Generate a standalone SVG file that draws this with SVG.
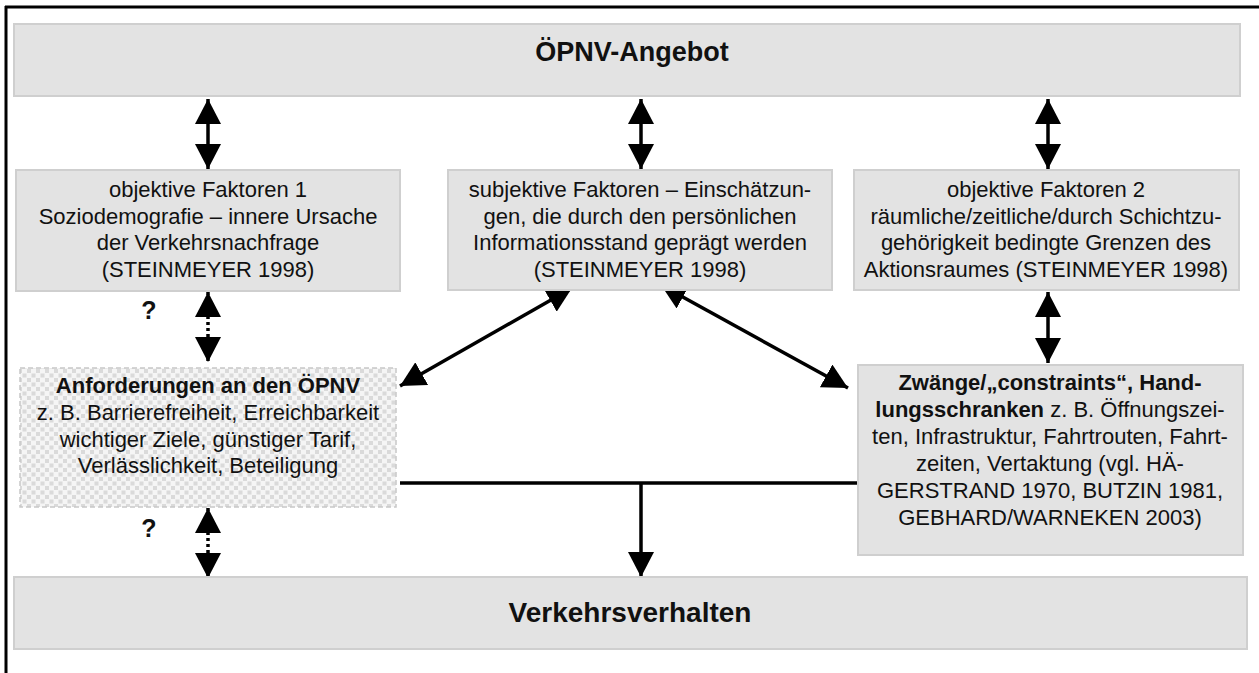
<svg xmlns="http://www.w3.org/2000/svg" width="1259" height="673" viewBox="0 0 1259 673">
<style>
  .box { fill: #e3e3e3; stroke: #cfcfcf; stroke-width: 2; }
  .pbox { fill: url(#chk); stroke: #c8c8c8; stroke-width: 1.5; stroke-dasharray: 5 3; }
  .t { font-family: "Liberation Sans", Arial, sans-serif; font-size: 22px; fill: #111; text-anchor: middle; }
  .b { font-weight: bold; }
  .q { font-size: 25px; }
  .title { font-family: "Liberation Sans", Arial, sans-serif; font-weight: bold; fill: #111; text-anchor: middle; }
  .c { stroke: #000; stroke-width: 3.5; fill: none; }
  .dot { stroke-dasharray: 3 3; }
  .frame { stroke: #000; stroke-width: 3; fill: none; }
</style>
<defs>
  <marker id="ah" markerUnits="userSpaceOnUse" markerWidth="26" markerHeight="26" refX="25" refY="13" orient="auto-start-reverse" viewBox="0 0 26 26">
    <path d="M0,0 L25,13 L0,26 z" fill="#000"/>
  </marker>
  <pattern id="chk" width="9" height="9" patternUnits="userSpaceOnUse">
    <rect width="9" height="9" fill="#f5f5f5"/>
    <rect x="0" y="0" width="4" height="4" fill="#dadada"/>
    <rect x="4.5" y="4.5" width="4" height="4" fill="#dadada"/>
  </pattern>
</defs>
<rect width="1259" height="673" fill="#fff"/>
<g id="frame">
  <path class="frame" d="M5,7 H1259 M6,6 V673"/>
</g>
<g id="connectors">
  <line class="c" x1="208" y1="99" x2="208" y2="169" marker-start="url(#ah)" marker-end="url(#ah)"/>
  <line class="c" x1="641" y1="99" x2="641" y2="169" marker-start="url(#ah)" marker-end="url(#ah)"/>
  <line class="c" x1="1048" y1="99" x2="1048" y2="169" marker-start="url(#ah)" marker-end="url(#ah)"/>
  <line class="c dot" x1="208" y1="292" x2="208" y2="362" marker-start="url(#ah)" marker-end="url(#ah)"/>
  <line class="c dot" x1="208" y1="508" x2="208" y2="578" marker-start="url(#ah)" marker-end="url(#ah)"/>
  <line class="c" x1="1048" y1="292" x2="1048" y2="363" marker-start="url(#ah)" marker-end="url(#ah)"/>
  <line class="c" x1="572" y1="288" x2="400" y2="386" marker-start="url(#ah)" marker-end="url(#ah)"/>
  <line class="c" x1="661" y1="285" x2="848" y2="388" marker-start="url(#ah)" marker-end="url(#ah)"/>
  <line class="c" x1="400" y1="483" x2="858" y2="483"/>
  <line class="c" x1="641" y1="483" x2="641" y2="577" marker-end="url(#ah)"/>
</g>
<g id="n-angebot">
  <rect class="box" x="14" y="24" width="1226" height="72"/>
  <text class="title" x="632" y="61" font-size="27">ÖPNV-Angebot</text>
</g>
<g id="n-obj1">
  <rect class="box" x="16" y="170" width="384" height="121"/>
  <text class="t"><tspan x="208" y="197">objektive Faktoren 1</tspan><tspan x="208" y="223.5">Soziodemografie – innere Ursache</tspan><tspan x="208" y="250">der Verkehrsnachfrage</tspan><tspan x="208" y="276.5">(STEINMEYER 1998)</tspan></text>
</g>
<g id="n-subj">
  <rect class="box" x="448" y="170" width="384" height="120"/>
  <text class="t"><tspan x="640" y="197">subjektive Faktoren – Einschätzun-</tspan><tspan x="640" y="223.5">gen, die durch den persönlichen</tspan><tspan x="640" y="250">Informationsstand geprägt werden</tspan><tspan x="640" y="276.5">(STEINMEYER 1998)</tspan></text>
</g>
<g id="n-obj2">
  <rect class="box" x="854" y="170" width="385" height="120"/>
  <text class="t"><tspan x="1046" y="197">objektive Faktoren 2</tspan><tspan x="1046" y="223.5">räumliche/zeitliche/durch Schichtzu-</tspan><tspan x="1046" y="250">gehörigkeit bedingte Grenzen des</tspan><tspan x="1046" y="276.5">Aktionsraumes (STEINMEYER 1998)</tspan></text>
</g>
<g id="n-anford">
  <rect class="pbox" x="20" y="368" width="376" height="139"/>
  <text class="t"><tspan class="b" x="208" y="393">Anforderungen an den ÖPNV</tspan><tspan x="208" y="420">z. B. Barrierefreiheit, Erreichbarkeit</tspan><tspan x="208" y="446.5">wichtiger Ziele, günstiger Tarif,</tspan><tspan x="208" y="473">Verlässlichkeit, Beteiligung</tspan></text>
</g>
<g id="n-zwaenge">
  <rect class="box" x="858" y="365" width="385" height="190"/>
  <text class="t"><tspan class="b" x="1050" y="390">Zwänge/„constraints“, Hand-</tspan><tspan class="b" x="1050" y="417">lungsschranken</tspan><tspan> z. B. Öffnungszei-</tspan><tspan x="1050" y="444">ten, Infrastruktur, Fahrtrouten, Fahrt-</tspan><tspan x="1050" y="471">zeiten, Vertaktung (vgl. HÄ-</tspan><tspan x="1050" y="498">GERSTRAND 1970, BUTZIN 1981,</tspan><tspan x="1050" y="525">GEBHARD/WARNEKEN 2003)</tspan></text>
</g>
<g id="n-verhalten">
  <rect class="box" x="14" y="577" width="1233" height="72"/>
  <text class="title" x="630" y="622" font-size="28">Verkehrsverhalten</text>
</g>
<g id="labels">
  <text class="t b q" x="149" y="319">?</text>
  <text class="t b q" x="149" y="537">?</text>
</g>
</svg>
